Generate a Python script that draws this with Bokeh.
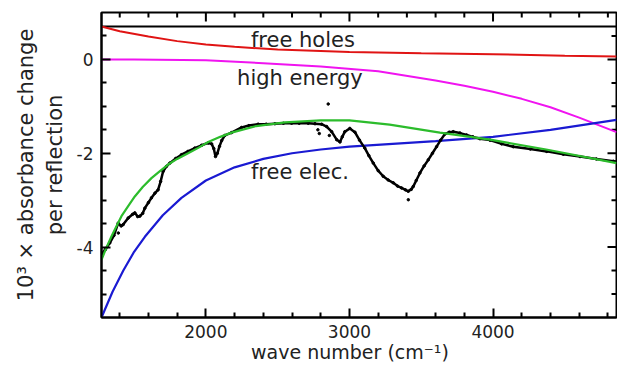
import math
from bokeh.plotting import figure
from bokeh.models import Range1d, FixedTicker, Label
from bokeh.embed import file_html
from bokeh.resources import INLINE

# ---------------- data ----------------
holes_wn = [1273, 1400, 1600, 1800, 2000, 2200, 2500, 3000, 3500, 4000, 4500, 4860]
holes_val = [0.70, 0.60, 0.49, 0.39, 0.32, 0.27, 0.21, 0.16, 0.13, 0.11, 0.08, 0.06]

high_wn = [1273, 1500, 2000, 2400, 2800, 3200, 3600, 3800, 4000, 4200, 4400, 4600, 4860]
high_val = [0.0, 0.0, -0.02, -0.08, -0.15, -0.25, -0.45, -0.56, -0.69, -0.84, -1.02, -1.24, -1.55]

elec_wn = [1273, 1350, 1425, 1500, 1575, 1700, 1830, 2000, 2200, 2400, 2600, 2800,
           3000, 3300, 3600, 4000, 4400, 4860]
elec_val = [-5.50, -4.95, -4.50, -4.10, -3.78, -3.32, -2.95, -2.58, -2.30, -2.12, -2.00, -1.92,
            -1.86, -1.80, -1.74, -1.65, -1.50, -1.29]

fit_wn = [1273, 1310, 1343, 1378, 1412, 1460, 1505, 1560, 1621, 1680, 1737, 1800, 1876, 1950,
          2016, 2100, 2179, 2350, 2550, 2800, 3000, 3280, 3630, 3980, 4370, 4860]
fit_val = [-4.27, -3.99, -3.77, -3.55, -3.34, -3.12, -2.92, -2.72, -2.53, -2.38, -2.24, -2.12,
           -2.00, -1.88, -1.76, -1.65, -1.56, -1.42, -1.34, -1.30, -1.30, -1.39, -1.56, -1.71,
           -1.92, -2.21]

meas_wn = [1273, 1300, 1331, 1360, 1389, 1410, 1424, 1459, 1490, 1505, 1525, 1540, 1560, 1575,
           1600, 1621, 1645, 1667, 1685, 1702, 1725, 1749, 1790, 1830, 1875, 1923, 1970, 2016,
           2040, 2055, 2067, 2080, 2095, 2110, 2132, 2179, 2249, 2300, 2364, 2420, 2481, 2540,
           2597, 2650, 2713, 2760, 2806, 2841, 2876, 2911, 2934, 2950, 2968, 3003, 3038, 3070,
           3107, 3135, 3166, 3200, 3235, 3270, 3305, 3335, 3363, 3390, 3410, 3430, 3444, 3465,
           3491, 3520, 3549, 3578, 3607, 3635, 3665, 3695, 3723, 3770, 3816, 3860, 3909, 3979,
           4060, 4141, 4260, 4374, 4490, 4606, 4720, 4838, 4860]
meas_val = [-4.15, -4.05, -3.91, -3.75, -3.49, -3.55, -3.52, -3.38, -3.30, -3.27, -3.35, -3.34,
            -3.28, -3.17, -3.05, -2.95, -2.85, -2.78, -2.60, -2.39, -2.28, -2.21, -2.11, -2.03,
            -1.96, -1.89, -1.83, -1.78, -1.80, -1.90, -2.07, -2.00, -1.85, -1.73, -1.62, -1.56,
            -1.45, -1.41, -1.38, -1.38, -1.37, -1.36, -1.36, -1.36, -1.36, -1.37, -1.38, -1.43,
            -1.54, -1.71, -1.76, -1.65, -1.54, -1.47, -1.55, -1.72, -1.89, -2.05, -2.21, -2.37,
            -2.49, -2.57, -2.63, -2.70, -2.74, -2.78, -2.81, -2.77, -2.71, -2.58, -2.42, -2.27,
            -2.14, -2.00, -1.86, -1.72, -1.59, -1.55, -1.54, -1.57, -1.61, -1.65, -1.69, -1.72,
            -1.80, -1.86, -1.91, -1.96, -2.02, -2.07, -2.12, -2.17, -2.18]

stray_wn = [2852, 2780, 2790, 2860, 3410, 1390]
stray_val = [-0.95, -1.50, -1.58, -1.62, -2.99, -3.70]

ref_level = 0.70  # black horizontal reference line

x_ticks = [2000, 3000, 4000]
x_minor = [1400, 1600, 1800, 2200, 2400, 2600, 2800, 3200, 3400, 3600, 3800,
           4200, 4400, 4600, 4800]
y_ticks = [-4, -2, 0]
y_tick_labels = ["-4", "-2", "0"]
y_minor = [-5, -4.5, -3.5, -3, -2.5, -1.5, -1, -0.5, 0.5]

X0, X1 = 1273, 4860
Y0, Y1 = -5.5, 1.0

FONT = "DejaVu Sans"
TXT = "#222222"

p = figure(width=617, height=365, output_backend="svg", toolbar_location=None,
           x_range=Range1d(X0, X1), y_range=Range1d(Y0, Y1),
           min_border_left=101, min_border_right=1, min_border_top=12, min_border_bottom=47,
           x_axis_label="wave number (cm\u207b\u00b9)\u00a0\u00a0\u00a0",
           y_axis_label="10\u00b3 \u00d7 absorbance change\nper reflection")
p.grid.visible = False
p.background_fill_color = "white"
p.border_fill_color = "white"
p.outline_line_color = "black"
p.outline_line_width = 2

xt = FixedTicker(ticks=x_ticks, minor_ticks=x_minor)
yt = FixedTicker(ticks=y_ticks, minor_ticks=y_minor)
p.xaxis.ticker = xt
p.yaxis.ticker = yt
p.yaxis.major_label_overrides = {t: s for t, s in zip(y_ticks, y_tick_labels)}

for ax in (p.xaxis[0], p.yaxis[0]):
    ax.axis_line_width = 2
    ax.axis_line_color = "black"
    ax.major_tick_in = 9
    ax.major_tick_out = 0
    ax.minor_tick_in = 5
    ax.minor_tick_out = 0
    ax.major_tick_line_width = 2
    ax.minor_tick_line_width = 2
    ax.major_label_text_font = FONT
    ax.major_label_text_color = TXT
    ax.major_label_text_font_size = "17px"
    ax.axis_label_text_font = FONT
    ax.axis_label_text_font_size = "21px"
    ax.axis_label_text_font_style = "normal"
    ax.axis_label_text_color = TXT

p.xaxis[0].axis_label_text_font_size = "19px"
p.xaxis[0].major_label_standoff = 7
p.xaxis[0].axis_label_standoff = 0
p.yaxis[0].major_label_standoff = 8
p.yaxis[0].axis_label_standoff = 7

# inward ticks on the top and right edges of the frame (half of each marker is clipped)
p.scatter(x_ticks, [Y1] * len(x_ticks), marker="dash", size=18, angle=math.pi / 2,
          line_color="black", line_width=2)
p.scatter(x_minor, [Y1] * len(x_minor), marker="dash", size=10, angle=math.pi / 2,
          line_color="black", line_width=2)
p.scatter([X1] * len(y_ticks), y_ticks, marker="dash", size=18,
          line_color="black", line_width=2)
p.scatter([X1] * len(y_minor), y_minor, marker="dash", size=10,
          line_color="black", line_width=2)

p.line([X0, X1], [ref_level, ref_level], line_color="black", line_width=2)
p.line(holes_wn, holes_val, line_color="#e01414", line_width=2)
p.line(high_wn, high_val, line_color="#f014f0", line_width=2)
p.line(elec_wn, elec_val, line_color="#1a1ad2", line_width=2.2)
p.line(meas_wn, meas_val, line_color="black", line_width=2.5)
p.scatter(meas_wn, meas_val, size=2.5, color="black")
p.scatter(stray_wn, stray_val, size=2.5, color="black")
p.line(fit_wn, fit_val, line_color="#2cbc2c", line_width=2.2)

for txt, x, y in [("free holes", 2676, 0.41), ("high energy", 2655, -0.39),
                  ("free elec.", 2655, -2.39)]:
    p.add_layout(Label(x=x, y=y, text=txt, text_font=FONT, text_font_size="21px",
                       text_color=TXT, text_align="center", text_baseline="middle"))

open("out.html", "w").write(file_html(p, INLINE))
